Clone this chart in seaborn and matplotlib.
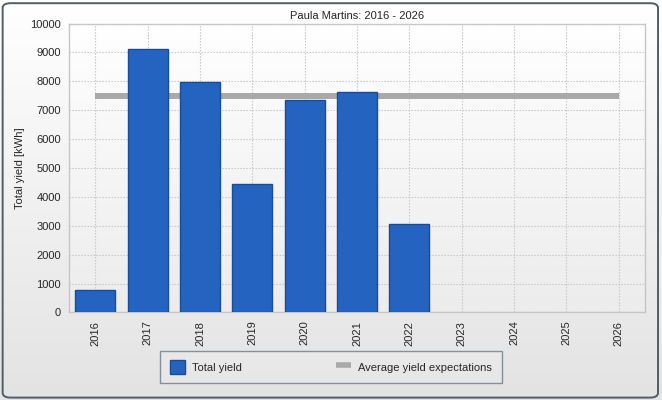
"""Total yield per year, Paula Martins 2016 - 2026."""
import matplotlib
matplotlib.use("Agg")
import matplotlib.pyplot as plt
import numpy as np
import pandas as pd
import seaborn as sns
from matplotlib.colors import LinearSegmentedColormap
from matplotlib.patches import FancyBboxPatch, Patch
from matplotlib.lines import Line2D

years = ["2016", "2017", "2018", "2019", "2020", "2021", "2022",
         "2023", "2024", "2025", "2026"]
total_yield = [770, 9110, 7970, 4440, 7350, 7620, 3050,
               np.nan, np.nan, np.nan, np.nan]
avg_expect = [7510, 7510, 7510, 7510, 7510, 7510, 7510,
              7510, 7510, 7510, 7510]
y_ticks = [0, 1000, 2000, 3000, 4000, 5000, 6000, 7000, 8000, 9000, 10000]

BAR = "#2563c0"
BAR_EDGE = "#1b4a96"
AVG = "#a9a9a9"

sns.set_style("white")
plt.rcParams["font.family"] = ["Liberation Sans", "DejaVu Sans"]
plt.rcParams["font.size"] = 8

df = pd.DataFrame({"year": years, "yield": total_yield})

fig = plt.figure(figsize=(6.62, 4.0), dpi=100)
fig.patch.set_facecolor("white")

# outer frame, white at the top fading to light grey
bg = fig.add_axes([0, 0, 1, 1], zorder=-10)
bg.imshow(np.linspace(0, 1, 256).reshape(-1, 1), extent=[0, 1, 0, 1], aspect="auto",
          cmap=LinearSegmentedColormap.from_list("g", ["#e3e3e3", "#ffffff"]), origin="lower")
bg.add_patch(FancyBboxPatch((0.004, 0.006), 0.99, 0.986, boxstyle="round,pad=0,rounding_size=0.012",
                            transform=bg.transAxes, fill=False, edgecolor="#525d68", linewidth=1.4))
bg.set_xlim(0, 1); bg.set_ylim(0, 1)
bg.axis("off")

ax = fig.add_axes([0.1045, 0.219, 0.8695, 0.722])
ax.imshow(np.linspace(0, 1, 256).reshape(-1, 1), extent=[-0.5, 10.5, 0, 10000], aspect="auto",
          cmap=LinearSegmentedColormap.from_list("p", ["#ececec", "#ffffff"]),
          origin="lower", zorder=0)

sns.barplot(data=df, x="year", y="yield", order=years, color=BAR, edgecolor=BAR_EDGE,
            linewidth=1.0, width=0.76, saturation=1, ax=ax, zorder=3)
ax.plot(range(len(years)), avg_expect, color=AVG, linewidth=4.3, solid_capstyle="butt", zorder=2)

ax.set_xlim(-0.5, 10.5)
ax.set_ylim(0, 10000)
ax.set_yticks(y_ticks)
ax.set_xticks(range(len(years)))
ax.set_xticklabels(years, rotation=90)
ax.tick_params(axis="x", length=3, color="#b0b0b0", pad=3)
ax.tick_params(axis="y", length=0, pad=6)
ax.grid(True, linestyle=(0, (1.2, 1.5)), color="#c4c4c4", linewidth=0.8, zorder=1)
ax.set_axisbelow(True)
for s in ax.spines.values():
    s.set_color("#c6c6c6")
    s.set_linewidth(1.0)

ax.set_xlabel("")
ax.set_ylabel("Total yield [kWh]", labelpad=4)
ax.set_title("Paula Martins: 2016 - 2026", fontsize=8, pad=3.5)

handles = [Patch(facecolor=BAR, edgecolor=BAR_EDGE, label="Total yield"),
           Line2D([0], [0], color=AVG, linewidth=4, solid_capstyle="butt",
                  label="Average yield expectations")]
leg = fig.legend(handles=handles, loc="center", bbox_to_anchor=(0.5, 0.0825), ncol=2,
                 frameon=True, fancybox=False, columnspacing=8.4, handlelength=1.4,
                 handleheight=1.5, borderpad=0.85, handletextpad=0.65)
leg.get_frame().set_edgecolor("#6d7a86")
leg.get_frame().set_facecolor("#e9e9e9")
leg.get_frame().set_linewidth(1.0)

fig.savefig("out.png", dpi=100)
